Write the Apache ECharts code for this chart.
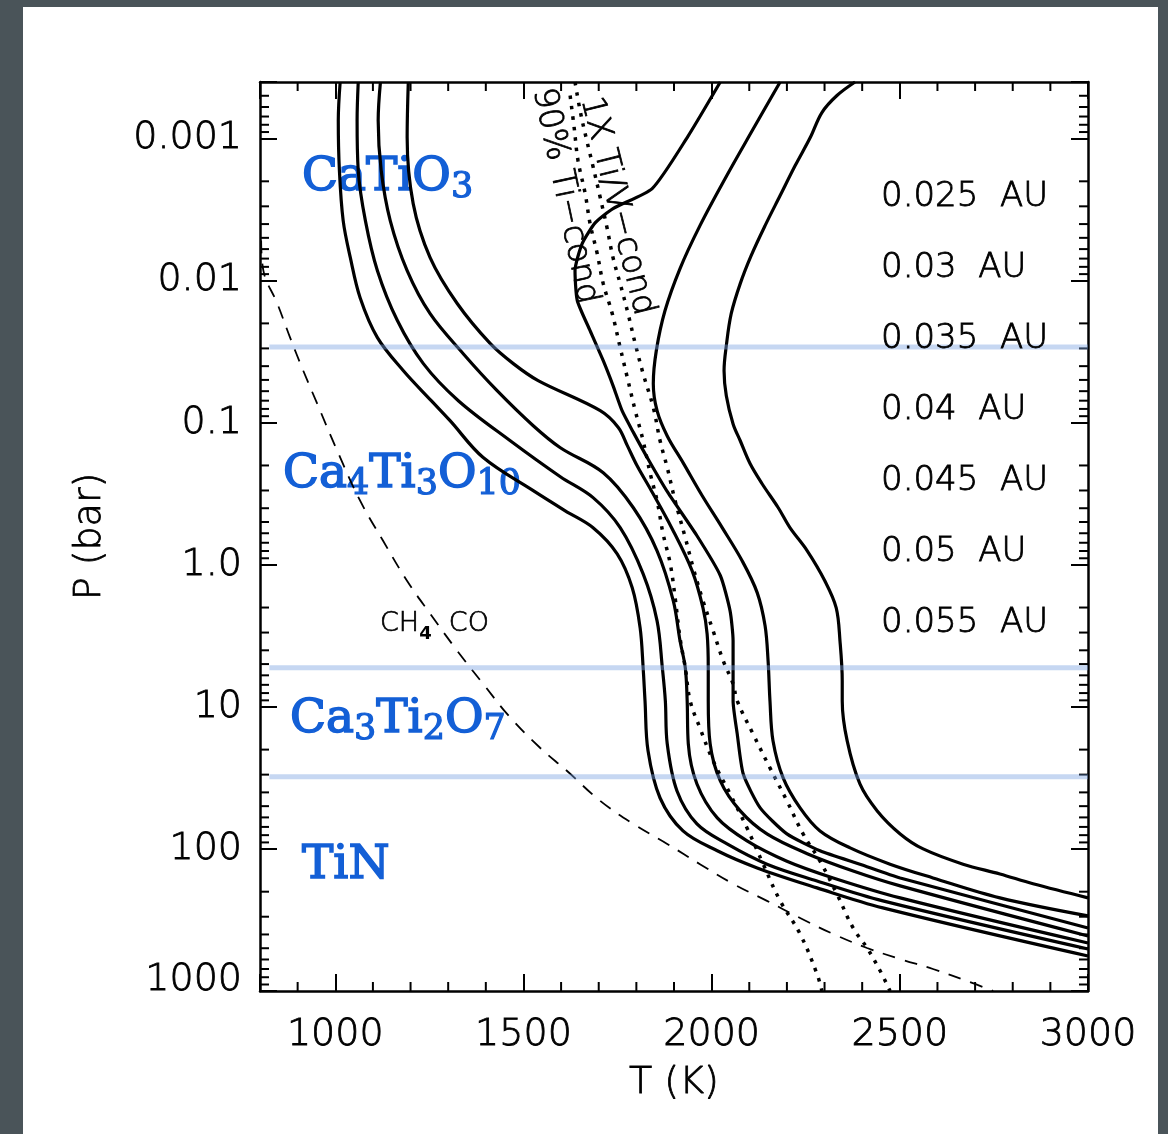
<!DOCTYPE html>
<html><head><meta charset="utf-8">
<script src="https://cdn.jsdelivr.net/npm/echarts@6/dist/echarts.min.js"></script>
<style>
html,body{margin:0;padding:0;width:1168px;height:1134px;background:#4a5459;overflow:hidden;}
#panel{position:absolute;left:23px;top:7px;width:1135px;height:1127px;background:#fff;}
#chart{position:absolute;left:0;top:0;width:1168px;height:1134px;}
</style></head><body><div id="panel"></div><div id="chart"></div>
<script>
// ---------- data ----------
const xTickValues = [1000, 1500, 2000, 2500, 3000];
const xTickLabels = ['1000', '1500', '2000', '2500', '3000'];
const yTickValues = [0.001, 0.01, 0.1, 1, 10, 100, 1000];
const yTickLabels = ['0.001', '0.01', '0.1', '1.0', '10', '100', '1000'];
const yMinorMultipliers = [2, 3, 4, 5, 6, 7, 8, 9];
const yMinorDecades = [0.0001, 0.001, 0.01, 0.1, 1, 10, 100];
const xMinorValues = [900, 1100, 1200, 1300, 1400, 1600, 1700, 1800, 1900, 2100, 2200, 2300, 2400, 2600, 2700, 2800, 2900];

const distanceLabels = ['0.025 AU', '0.03 AU', '0.035 AU', '0.04 AU', '0.045 AU', '0.05 AU', '0.055 AU'];

// P-T profiles [T (K), P (bar)]
const prof025 = [[2381,0.0004],[2333,4.98e-4],[2293,6.56e-4],[2262,9.84e-4],[2222,1.55e-3],[2182,2.52e-3],[2142,4.10e-3],[2105,6.67e-3],[2076,0.0105],[2052,0.0171],[2039,0.0287],[2033,0.0431],[2039,0.0646],[2057,0.102],[2076,0.134],[2102,0.194],[2134,0.269],[2177,0.397],[2208,0.548],[2254,0.797],[2301,1.30],[2331,2.01],[2341,3.43],[2347,6.56],[2347,9.08],[2360,17.3],[2394,34.9],[2440,54.0],[2501,78.4],[2562,100],[2668,128],[2766,150],[2854,176],[3000,221]];
const prof030 = [[2182,0.0004],[2108,8.79e-4],[2036,1.91e-3],[1969,4.10e-3],[1916,8.22e-3],[1876,0.0163],[1853,0.0311],[1845,0.0531],[1855,0.0823],[1882,0.124],[1924,0.191],[1975,0.327],[2028,0.548],[2081,0.937],[2121,1.57],[2142,2.69],[2150,4.75],[2155,9.08],[2163,17.3],[2190,31.6],[2235,51.4],[2288,74.7],[2368,98.4],[2474,128],[2588,160],[2766,221],[3000,296]];
const prof035 = [[2023,0.0004],[1935,9.84e-4],[1842,2.25e-3],[1738,3.11e-3],[1691,3.91e-3],[1656,5.49e-3],[1637,8.51e-3],[1643,0.0138],[1677,0.0225],[1712,0.0366],[1738,0.0548],[1762,0.0823],[1792,0.117],[1831,0.180],[1884,0.311],[1961,0.625],[2023,1.19],[2049,2.11],[2057,3.43],[2057,5.31],[2057,9.08],[2068,15.5],[2084,29.7],[2129,51.4],[2200,78.4],[2288,103],[2394,128],[2501,160],[3000,360]];
const prof040 = [[1194,0.0004],[1191,9.84e-4],[1207,2.87e-3],[1252,6.89e-3],[1324,0.0145],[1412,0.0278],[1473,0.0384],[1539,0.0506],[1704,0.0823],[1752,0.108],[1776,0.145],[1802,0.201],[1837,0.292],[1895,0.557],[1948,1.10],[1977,2.01],[1988,3.06],[1991,5.31],[1991,9.08],[1996,18.2],[2023,33.2],[2076,54.0],[2147,78.4],[2254,108],[2376,143],[2501,182],[3000,410]];
const prof045 = [[1120,0.0004],[1114,7.47e-4],[1122,1.68e-3],[1146,3.78e-3],[1191,8.51e-3],[1252,0.0171],[1340,0.0327],[1430,0.0595],[1526,0.105],[1598,0.150],[1712,0.225],[1792,0.397],[1855,0.797],[1898,1.79],[1916,3.43],[1930,5.31],[1935,9.08],[1938,18.2],[1961,34.9],[2015,60.5],[2094,87.8],[2200,122],[2323,160],[2501,221],[3000,459]];
const prof050 = [[1061,0.0004],[1058,7.47e-4],[1061,1.68e-3],[1080,3.78e-3],[1112,8.51e-3],[1165,0.0191],[1234,0.0384],[1327,0.070],[1465,0.134],[1598,0.240],[1685,0.337],[1757,0.548],[1818,1.16],[1855,2.48],[1869,5.31],[1877,9.08],[1882,18.2],[1908,39.1],[1961,66.7],[2041,92.2],[2147,128],[2280,168],[2455,232],[3000,506]];
const prof055 = [[1013,0.0004],[1008,7.47e-4],[1011,1.68e-3],[1021,3.78e-3],[1040,6.89e-3],[1066,0.0132],[1112,0.0252],[1181,0.0431],[1255,0.070],[1305,0.0968],[1393,0.176],[1526,0.301],[1611,0.417],[1685,0.548],[1749,0.837],[1789,1.45],[1810,2.78],[1818,5.31],[1823,9.08],[1831,20.4],[1863,43.8],[1924,74.7],[2015,103],[2121,136],[2280,188],[2455,260],[3000,567]];

// condensation curves
const cond1x = [[1637,0.0004],[1651,6.45e-4],[1667,0.001],[1683,1.50e-3],[1704,2.60e-3],[1722,4.24e-3],[1738,6.89e-3],[1757,0.0105],[1778,0.0171],[1797,0.0278],[1818,0.0452],[1845,0.0783],[1863,0.134],[1882,0.207],[1903,0.354],[1930,0.645],[1951,1.05],[1977,1.79],[2004,2.92],[2031,4.75],[2057,6.89],[2068,9.08],[2110,15.5],[2155,26.9],[2200,45.9],[2243,78.4],[2288,122],[2333,208],[2376,360],[2413,498],[2448,723],[2474,1000]];
const cond90 = [[1624,4.98e-4],[1635,8.5e-4],[1645,1.43e-3],[1664,2.44e-3],[1677,3.97e-3],[1696,6.46e-3],[1712,0.0105],[1736,0.0171],[1757,0.0296],[1776,0.0482],[1797,0.0823],[1818,0.134],[1837,0.229],[1855,0.354],[1871,0.605],[1890,0.984],[1903,1.71],[1916,3.27],[1930,5.31],[1943,9.08],[1969,14.1],[2004,24.0],[2049,41.0],[2094,71.2],[2137,128],[2182,232],[2235,397],[2280,759],[2293,1000]];
// CH4 / CO equal-abundance boundary
const ch4co = [[803,5.22e-3],[809,8.51e-3],[846,0.0145],[880,0.0252],[915,0.0431],[952,0.0735],[1005,0.157],[1066,0.354],[1127,0.678],[1191,1.30],[1252,2.21],[1324,4.03],[1393,6.89],[1465,11.9],[1544,19.4],[1616,28.3],[1704,45.9],[1792,66.7],[1882,92.2],[1969,128],[2057,176],[2147,232],[2235,306],[2323,397],[2413,498],[2501,596],[2588,700],[2679,851],[2748,1000]];
// phase boundaries (bar)
const phaseBoundaryP = [0.0293, 5.3, 31];
const phaseBoundaryT = [825, 3000];

// ---------- chart ----------
const X_MIN = 800, X_MAX = 3000, Y_MIN = 0.0004, Y_MAX = 1000;
const SANS = '"DejaVu Sans", sans-serif';
const SERIF = '"DejaVu Serif", serif';
const BLUE = '#135fd6';
const SANS_WEIGHT = 200;
const TXT_STROKE = 0.8;

const yMinorValues = [];
yMinorDecades.forEach(d => yMinorMultipliers.forEach(m => {
  const v = d * m;
  if (v >= Y_MIN * 0.999 && v <= Y_MAX) yMinorValues.push(v);
}));

function yLabel(v) {
  for (let i = 0; i < yTickValues.length; i++) {
    if (Math.abs(Math.log10(v) - Math.log10(yTickValues[i])) < 1e-6) {
      return i === yTickValues.length - 1 ? '{up|' + yTickLabels[i] + '}' : yTickLabels[i];
    }
  }
  return '';
}
function xLabel(v) {
  const i = xTickValues.indexOf(Math.round(v));
  return i >= 0 ? xTickLabels[i] : '';
}

const axisLineStyle = { color: '#000', width: 2.5 };
const tickStyle = { inside: true, length: 17, lineStyle: { color: '#000', width: 2 } };
const labelFont = { fontFamily: SANS, fontSize: 38, fontWeight: SANS_WEIGHT, color: '#000',
  textBorderColor: '#000', textBorderWidth: TXT_STROKE };

const xAxisBase = { type: 'value', min: X_MIN, max: X_MAX, splitLine: { show: false },
  axisLine: { onZero: false, lineStyle: axisLineStyle }, axisTick: tickStyle };
const yAxisBase = { type: 'log', logBase: 10, min: Y_MIN, max: Y_MAX, inverse: true,
  splitLine: { show: false }, axisLine: { onZero: false, lineStyle: axisLineStyle }, axisTick: tickStyle, minorTick: { show: false } };

const profiles = [prof025, prof030, prof035, prof040, prof045, prof050, prof055];
const series = [];
profiles.forEach((p, i) => series.push({
  type: 'line', name: distanceLabels[i], data: p, symbol: 'none', showSymbol: false,
  smooth: i === 2 ? 0.2 : 0.35,
  lineStyle: { color: '#000', width: 3.2 }, z: 3
}));
series.push({ type: 'line', name: '1X Ti/V-cond', data: cond1x, symbol: 'none', smooth: 0.4,
  lineStyle: { color: '#000', width: 3.5, type: [3.5, 7], cap: 'butt' }, z: 3 });
series.push({ type: 'line', name: '90% Ti-cond', data: cond90, symbol: 'none', smooth: 0.4,
  lineStyle: { color: '#000', width: 3.5, type: [3.5, 7], cap: 'butt' }, z: 3 });
series.push({ type: 'line', name: 'CH4/CO', data: ch4co, symbol: 'none', smooth: 0.4,
  lineStyle: { color: '#000', width: 1.8, type: [13, 10] }, z: 3 });
phaseBoundaryP.forEach(p => series.push({
  type: 'line', data: phaseBoundaryT.map(t => [t, p]), symbol: 'none',
  lineStyle: { color: 'rgba(120,160,225,0.42)', width: 5 }, z: 5, silent: true
}));
// minor ticks (log y) on left and right frame
series.push({
  type: 'custom', coordinateSystem: 'cartesian2d', z: 4, silent: true,
  data: yMinorValues.map(v => [X_MIN, v]),
  renderItem: function (params, api) {
    const v = api.value(1);
    const l = api.coord([X_MIN, v]), r = api.coord([X_MAX, v]);
    const st = { stroke: '#000', lineWidth: 2 };
    return { type: 'group', children: [
      { type: 'line', shape: { x1: l[0], y1: l[1], x2: l[0] + 9, y2: l[1] }, style: st },
      { type: 'line', shape: { x1: r[0], y1: r[1], x2: r[0] - 9, y2: r[1] }, style: st }
    ] };
  }
});
// minor ticks (x) on bottom and top frame
series.push({
  type: 'custom', coordinateSystem: 'cartesian2d', z: 4, silent: true,
  data: xMinorValues.map(v => [v, Y_MAX]),
  renderItem: function (params, api) {
    const v = api.value(0);
    const b = api.coord([v, Y_MAX]), t = api.coord([v, Y_MIN]);
    const st = { stroke: '#000', lineWidth: 2 };
    return { type: 'group', children: [
      { type: 'line', shape: { x1: b[0], y1: b[1], x2: b[0], y2: b[1] - 9 }, style: st },
      { type: 'line', shape: { x1: t[0], y1: t[1], x2: t[0], y2: t[1] + 9 }, style: st }
    ] };
  }
});

// annotation text
const phaseText = ['{m|CaTiO}{s|3}', '{m|Ca}{s|4}{m|Ti}{s|3}{m|O}{s|10}', '{m|Ca}{s|3}{m|Ti}{s|2}{m|O}{s|7}', '{m|TiN}'];
const phasePos = [[302, 178], [283, 475], [290, 720], [302, 866]];
const phaseRich = {
  m: { fontFamily: SERIF, fontSize: 47, lineHeight: 54, fill: BLUE, stroke: BLUE, lineWidth: 1.6, verticalAlign: 'middle' },
  s: { fontFamily: SERIF, fontSize: 35, lineHeight: 35, fill: BLUE, stroke: BLUE, lineWidth: 1.2, verticalAlign: 'bottom' }
};
const graphic = [];
phaseText.forEach((t, i) => graphic.push({
  type: 'text', x: phasePos[i][0], y: phasePos[i][1], z: 1,
  style: { text: t, rich: phaseRich, align: 'left', verticalAlign: 'middle' }
}));
const auY = [197, 268, 339, 410, 481, 552, 623];
const sansStyle = (size) => ({ font: SANS_WEIGHT + ' ' + size + 'px ' + SANS, fill: '#000', stroke: '#000', lineWidth: TXT_STROKE });
distanceLabels.forEach((t, i) => graphic.push({
  type: 'text', x: 881, y: auY[i], z: 100,
  style: Object.assign({ text: t.replace(' ', '  '), align: 'left', verticalAlign: 'middle' }, sansStyle(34))
}));
graphic.push({
  type: 'text', x: 380, y: 624, z: 100,
  style: { text: '{a|CH}{b|4}{a|  CO}', align: 'left', verticalAlign: 'middle',
    rich: { a: { fontFamily: SANS, fontSize: 27, fontWeight: SANS_WEIGHT, lineHeight: 38, fill: '#000', stroke: '#000', lineWidth: 0.7, verticalAlign: 'middle' },
            b: { fontFamily: SANS, fontSize: 18, fontWeight: 'bold', lineHeight: 18, fill: '#000', verticalAlign: 'bottom' } } }
});
graphic.push({
  type: 'text', x: 617, y: 206, rotation: -76 * Math.PI / 180, z: 100,
  style: Object.assign({ text: '1X Ti/V\u2212cond', align: 'center', verticalAlign: 'middle' }, sansStyle(33))
});
graphic.push({
  type: 'text', x: 565, y: 196, rotation: -78 * Math.PI / 180, z: 100,
  style: Object.assign({ text: '90% Ti\u2212cond', align: 'center', verticalAlign: 'middle' }, sansStyle(33))
});

const nameStyle = { fontFamily: SANS, fontSize: 38, fontWeight: SANS_WEIGHT, color: '#000', textBorderColor: '#000', textBorderWidth: TXT_STROKE };
const option = {
  animation: false,
  grid: { left: 260, right: 80, top: 82, bottom: 143 },
  xAxis: [
    Object.assign({}, xAxisBase, { position: 'bottom',
      axisLabel: Object.assign({ formatter: xLabel, margin: 25 }, labelFont),
      name: 'T (K)', nameLocation: 'middle', nameGap: 73, nameTextStyle: nameStyle }),
    Object.assign({}, xAxisBase, { position: 'top', axisLabel: { show: false } })
  ],
  yAxis: [
    Object.assign({}, yAxisBase, { position: 'left',
      axisLabel: Object.assign({ formatter: yLabel, margin: 18,
        rich: { up: { fontFamily: SANS, fontSize: 38, fontWeight: SANS_WEIGHT, color: '#000',
          textBorderColor: '#000', textBorderWidth: TXT_STROKE, padding: [0, 0, 22, 0] } } }, labelFont),
      name: 'P (bar)', nameLocation: 'middle', nameGap: 151, nameRotate: 90, nameTextStyle: nameStyle }),
    Object.assign({}, yAxisBase, { position: 'right', axisLabel: { show: false } })
  ],
  series: series,
  graphic: graphic
};
const chart = echarts.init(document.getElementById('chart'), null, { renderer: 'canvas' });
chart.setOption(option);
</script></body></html>
